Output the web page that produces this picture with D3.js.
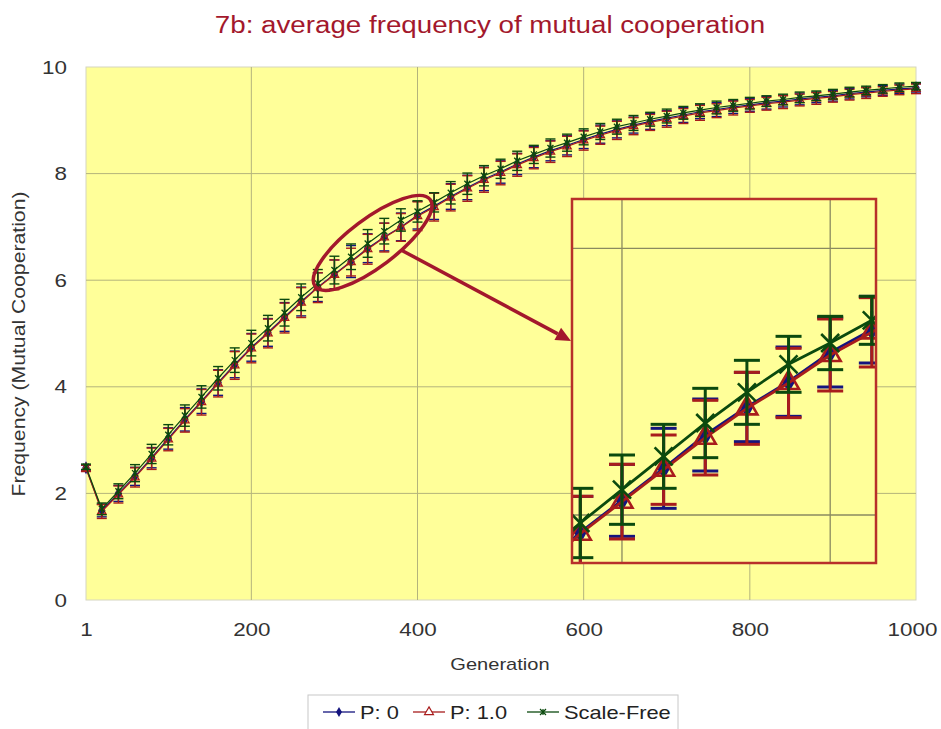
<!DOCTYPE html>
<html>
<head>
<meta charset="utf-8">
<script src="https://cdn.jsdelivr.net/npm/d3@7"></script>
<style>
  body { margin: 0; background: #fff; }
  svg { display: block; font-family: "Liberation Sans", Arial, sans-serif; }
</style>
</head>
<body>
<svg id="chart" width="941" height="729"></svg>
<script>
// generations sampled every 20 steps
const gens = [1,20,40,60,80,100,120,140,160,180,200,220,240,260,280,300,320,340,360,380,400,420,440,460,480,500,520,540,560,580,600,620,640,660,680,700,720,740,760,780,800,820,840,860,880,900,920,940,960,980,1000];

const p0 = [2.48,1.68,2.0,2.32,2.67,3.03,3.39,3.73,4.08,4.42,4.74,5.02,5.31,5.6,5.87,6.11,6.35,6.6,6.81,7.0,7.22,7.39,7.57,7.74,7.9,8.03,8.18,8.31,8.43,8.53,8.64,8.74,8.83,8.91,8.98,9.04,9.1,9.16,9.2,9.25,9.29,9.33,9.36,9.4,9.43,9.46,9.5,9.53,9.56,9.59,9.61];
const p1 = [2.47,1.66,1.98,2.3,2.65,3.01,3.37,3.71,4.06,4.4,4.72,5.0,5.29,5.58,5.86,6.1,6.34,6.58,6.8,6.99,7.2,7.37,7.55,7.72,7.88,8.01,8.16,8.29,8.41,8.51,8.62,8.72,8.81,8.89,8.96,9.02,9.08,9.14,9.18,9.23,9.27,9.31,9.34,9.38,9.41,9.44,9.48,9.51,9.54,9.57,9.59];
const sf = [2.5,1.71,2.04,2.38,2.74,3.1,3.46,3.81,4.16,4.5,4.82,5.1,5.39,5.68,5.94,6.19,6.44,6.69,6.92,7.13,7.29,7.46,7.64,7.81,7.96,8.09,8.24,8.36,8.48,8.58,8.69,8.79,8.88,8.95,9.02,9.08,9.14,9.19,9.24,9.28,9.32,9.36,9.39,9.43,9.46,9.49,9.53,9.56,9.59,9.62,9.64];

// error bar half-widths
const errP0 = [0.05,0.12,0.15,0.17,0.19,0.2,0.22,0.23,0.24,0.25,0.26,0.26,0.27,0.27,0.27,0.27,0.3,0.27,0.26,0.26,0.26,0.25,0.24,0.23,0.22,0.21,0.2,0.2,0.19,0.18,0.17,0.17,0.16,0.15,0.15,0.14,0.14,0.13,0.13,0.12,0.12,0.12,0.11,0.11,0.1,0.1,0.1,0.09,0.09,0.09,0.08];
const errP1 = [0.06,0.13,0.16,0.18,0.2,0.21,0.22,0.24,0.25,0.26,0.27,0.27,0.28,0.28,0.28,0.28,0.26,0.28,0.27,0.26,0.27,0.26,0.25,0.24,0.23,0.22,0.21,0.2,0.2,0.19,0.18,0.17,0.17,0.16,0.15,0.15,0.14,0.14,0.13,0.13,0.12,0.12,0.12,0.11,0.11,0.1,0.1,0.1,0.09,0.09,0.09];
const errSF = [0.05,0.11,0.14,0.16,0.18,0.19,0.2,0.21,0.22,0.23,0.24,0.24,0.25,0.25,0.26,0.26,0.24,0.26,0.24,0.21,0.2,0.18,0.21,0.2,0.19,0.18,0.18,0.17,0.17,0.16,0.15,0.15,0.14,0.14,0.13,0.13,0.12,0.12,0.12,0.11,0.11,0.1,0.1,0.1,0.09,0.09,0.09,0.08,0.08,0.08,0.07];

const seriesNames = ["P: 0", "P: 1.0", "Scale-Free"];
const xTicks = [1, 200, 400, 600, 800, 1000];
const yTicks = [0, 2, 4, 6, 8, 10];

const series = [
  { name: seriesNames[0], values: p0, err: errP0, color: "#14147e", marker: "diamond" },
  { name: seriesNames[1], values: p1, err: errP1, color: "#a81c1c", marker: "triangle" },
  { name: seriesNames[2], values: sf, err: errSF, color: "#0b4a0e", marker: "star" }
];

const svg = d3.select("#chart");
const pLeft = 86, pRight = 916, pTop = 67, pBottom = 600;
const annot = "#a3182c";

const x = d3.scaleLinear().domain([1, 1000]).range([pLeft, pRight]);
const y = d3.scaleLinear().domain([0, 10]).range([pBottom, pTop]);

// title
svg.append("text")
  .attr("x", 490).attr("y", 33)
  .attr("text-anchor", "middle")
  .attr("font-size", "23.5px")
  .attr("fill", annot)
  .text("7b: average frequency of mutual cooperation");

// plot area
svg.append("rect")
  .attr("x", pLeft).attr("y", pTop)
  .attr("width", pRight - pLeft).attr("height", pBottom - pTop)
  .attr("fill", "#ffff99")
  .attr("stroke", "#d6d6c0");

svg.append("g").selectAll("line")
  .data([200, 400, 600, 800]).join("line")
  .attr("x1", d => x(d)).attr("x2", d => x(d))
  .attr("y1", pTop).attr("y2", pBottom)
  .attr("stroke", "#b4b47c").attr("stroke-width", 1);

svg.append("g").selectAll("line")
  .data([2, 4, 6, 8]).join("line")
  .attr("x1", pLeft).attr("x2", pRight)
  .attr("y1", d => y(d)).attr("y2", d => y(d))
  .attr("stroke", "#b4b47c").attr("stroke-width", 1);

// axes
const xAxis = svg.append("g")
  .attr("transform", `translate(0,${pBottom})`)
  .call(d3.axisBottom(x).tickValues(xTicks).tickSize(0).tickPadding(23).tickFormat(d3.format("d")));
const yAxis = svg.append("g")
  .attr("transform", `translate(${pLeft},0)`)
  .call(d3.axisLeft(y).tickValues(yTicks).tickSize(0).tickPadding(19));
[xAxis, yAxis].forEach(a => {
  a.select(".domain").remove();
  a.attr("font-family", null).attr("font-size", null);
  a.selectAll("text").attr("font-size", "19px").attr("fill", "#333");
});
xAxis.selectAll("text").filter(d => d === 1000).attr("text-anchor", "end").attr("x", 21);

svg.append("text")
  .attr("x", 500).attr("y", 670)
  .attr("text-anchor", "middle")
  .attr("font-size", "17px").attr("fill", "#333")
  .text("Generation");

svg.append("text")
  .attr("transform", `translate(25,344) rotate(-90)`)
  .attr("text-anchor", "middle")
  .attr("font-size", "18px").attr("fill", "#333")
  .attr("class", "fixed")
  .attr("textLength", 305).attr("lengthAdjust", "spacingAndGlyphs")
  .text("Frequency (Mutual Cooperation)");

function markerPath(type, size) {
  if (type === "star") {
    const s = size;
    return `M${-s},${-s}L${s},${s}M${-s},${s}L${s},${-s}M0,${-s}L0,${s}`;
  }
  const sym = type === "diamond" ? d3.symbolDiamond : d3.symbolTriangle;
  return d3.symbol().type(sym).size(size)();
}

function drawSeries(g, xs, ys, s, o) {
  const pts = gens.map((gen, i) => ({ gen, v: s.values[i], e: s.err[i] }));
  const eb = g.append("g").attr("stroke", s.color).attr("stroke-width", o.ebw);
  eb.selectAll(".bar").data(pts).join("line").attr("class", "bar")
    .attr("x1", d => xs(d.gen)).attr("x2", d => xs(d.gen))
    .attr("y1", d => ys(d.v - d.e)).attr("y2", d => ys(d.v + d.e));
  eb.selectAll(".capHi").data(pts).join("line").attr("class", "capHi")
    .attr("x1", d => xs(d.gen) - o.cap).attr("x2", d => xs(d.gen) + o.cap)
    .attr("y1", d => ys(d.v + d.e)).attr("y2", d => ys(d.v + d.e));
  eb.selectAll(".capLo").data(pts).join("line").attr("class", "capLo")
    .attr("x1", d => xs(d.gen) - o.cap).attr("x2", d => xs(d.gen) + o.cap)
    .attr("y1", d => ys(d.v - d.e)).attr("y2", d => ys(d.v - d.e));

  g.append("path").datum(pts)
    .attr("fill", "none").attr("stroke", s.color).attr("stroke-width", o.lw)
    .attr("d", d3.line().x(d => xs(d.gen)).y(d => ys(d.v)));

  const size = s.marker === "star" ? o.star : (s.marker === "diamond" ? o.diamond : o.tri);
  g.append("g").selectAll("path").data(pts).join("path")
    .attr("transform", d => `translate(${xs(d.gen)},${ys(d.v)})`)
    .attr("d", markerPath(s.marker, size))
    .attr("fill", s.marker === "diamond" ? s.color : "none")
    .attr("stroke", s.color)
    .attr("stroke-width", s.marker === "diamond" ? 0 : o.mw);
}

const main = svg.append("g");
series.forEach(s => drawSeries(main, x, y, s, { ebw: 1.4, cap: 5, lw: 1.2, diamond: 48, tri: 30, star: 3, mw: 1.3 }));

// annotation: ellipse and arrow
const ec = [x(346), y(6.7)], rx = 72, ry = 24, rot = -37;
svg.append("ellipse")
  .attr("cx", ec[0]).attr("cy", ec[1]).attr("rx", rx).attr("ry", ry)
  .attr("transform", `rotate(${rot},${ec[0]},${ec[1]})`)
  .attr("fill", "none").attr("stroke", annot).attr("stroke-width", 3.5);

// inset
const inset = { x0: 572, y0: 199, x1: 876, y1: 563 };
const ix = d3.scaleLinear().domain([276, 422]).range([inset.x0, inset.x1]);
const iy = d3.scaleLinear().domain([5.64, 8.37]).range([inset.y1, inset.y0]);

const ang = rot * Math.PI / 180, t = 75 * Math.PI / 180;
const lx = rx * Math.cos(t), ly = ry * Math.sin(t);
const start = [ec[0] + lx * Math.cos(ang) - ly * Math.sin(ang), ec[1] + lx * Math.sin(ang) + ly * Math.cos(ang)];
const tip = [inset.x0 - 1, 341];
const dx = tip[0] - start[0], dy = tip[1] - start[1], len = Math.hypot(dx, dy);
const ux = dx / len, uy = dy / len, hl = 15, hw = 7;
svg.append("line")
  .attr("x1", start[0]).attr("y1", start[1])
  .attr("x2", tip[0] - ux * hl).attr("y2", tip[1] - uy * hl)
  .attr("stroke", annot).attr("stroke-width", 3.5);
svg.append("path")
  .attr("d", `M${tip[0]},${tip[1]}L${tip[0] - ux * hl - uy * hw},${tip[1] - uy * hl + ux * hw}L${tip[0] - ux * hl + uy * hw},${tip[1] - uy * hl - ux * hw}Z`)
  .attr("fill", annot);

svg.append("clipPath").attr("id", "insetClip")
  .append("rect").attr("x", inset.x0).attr("y", inset.y0)
  .attr("width", inset.x1 - inset.x0).attr("height", inset.y1 - inset.y0);

const ig = svg.append("g").attr("clip-path", "url(#insetClip)");
ig.append("rect").attr("x", inset.x0).attr("y", inset.y0)
  .attr("width", inset.x1 - inset.x0).attr("height", inset.y1 - inset.y0)
  .attr("fill", "#ffff99");
ig.append("g").selectAll("line").data([300, 400]).join("line")
  .attr("x1", d => ix(d)).attr("x2", d => ix(d))
  .attr("y1", inset.y0).attr("y2", inset.y1)
  .attr("stroke", "#8a8a60").attr("stroke-width", 1.3);
ig.append("g").selectAll("line").data([6, 8]).join("line")
  .attr("x1", inset.x0).attr("x2", inset.x1)
  .attr("y1", d => iy(d)).attr("y2", d => iy(d))
  .attr("stroke", "#8a8a60").attr("stroke-width", 1.3);
series.forEach(s => drawSeries(ig, ix, iy, s, { ebw: 3, cap: 13, lw: 2.8, diamond: 150, tri: 190, star: 9, mw: 2.6 }));

svg.append("rect").attr("x", inset.x0).attr("y", inset.y0)
  .attr("width", inset.x1 - inset.x0).attr("height", inset.y1 - inset.y0)
  .attr("fill", "none").attr("stroke", "#b8302a").attr("stroke-width", 2.5);

// legend
const legend = svg.append("g");
legend.append("rect").attr("x", 308).attr("y", 695).attr("width", 370).attr("height", 40)
  .attr("fill", "#fff").attr("stroke", "#c8c8c8");
const legX = [323, 413, 527];
series.forEach((s, i) => {
  const g = legend.append("g").attr("transform", `translate(${legX[i]},712)`);
  g.append("line").attr("x1", 0).attr("x2", 32).attr("stroke", s.color).attr("stroke-width", 1.3);
  const size = s.marker === "star" ? 3 : (s.marker === "diamond" ? 30 : 34);
  g.append("path").attr("transform", "translate(16,0)")
    .attr("d", markerPath(s.marker, size))
    .attr("fill", s.marker === "diamond" ? s.color : (s.marker === "triangle" ? "#fff" : "none"))
    .attr("stroke", s.color).attr("stroke-width", s.marker === "diamond" ? 0 : 1.2);
  g.append("text").attr("x", 37).attr("y", 6.5)
    .attr("font-size", "18.5px").attr("fill", "#222")
    .text(s.name);
});

// the source picture is stretched sideways; widen the glyphs to match
svg.selectAll("text").filter(function () { return !this.classList.contains("fixed"); })
  .each(function () {
    const w = this.getComputedTextLength();
    d3.select(this).attr("textLength", w * 1.18).attr("lengthAdjust", "spacingAndGlyphs");
  });
</script>
</body>
</html>
